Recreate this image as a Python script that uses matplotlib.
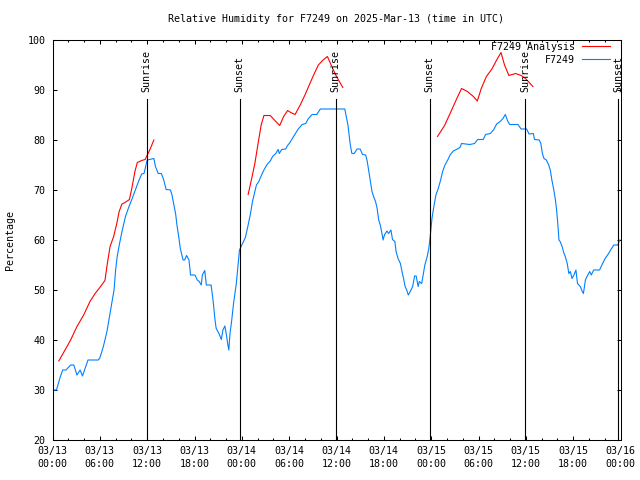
#!/usr/bin/env python3
"""Relative humidity for station F7249, observed vs analysis, with sunrise/sunset marks."""

import matplotlib

matplotlib.use("Agg")
import matplotlib.pyplot as plt
import matplotlib.transforms as mtransforms

# hours since 2025-03-13 00:00 UTC
obs_hours = [
    0.0, 0.5, 1.0, 1.3, 1.7, 2.3, 2.7, 3.1, 3.5, 3.8, 4.5, 5.0, 5.8, 6.0, 6.45,
    6.9, 7.3, 7.8, 8.0, 8.2, 8.5, 8.85, 9.25, 9.7, 10.1, 10.5, 10.9, 11.3, 11.6,
    12.0, 12.85, 13.05, 13.4, 13.8, 14.1, 14.4, 14.95, 15.15, 15.35, 15.6, 15.8,
    16.0, 16.2, 16.45, 16.55, 16.75, 17.0, 17.3, 17.5, 18.05, 18.35, 18.6, 18.85,
    19.0, 19.3, 19.5, 20.1, 20.35, 20.6, 20.75, 21.1, 21.4, 21.6, 21.85, 22.05,
    22.2, 22.35, 22.5, 22.7, 22.95, 23.3, 23.5, 23.7, 24.0, 24.45, 24.8, 25.1,
    25.35, 25.65, 25.85, 26.15, 26.5, 26.8, 27.2, 27.6, 27.9, 28.3, 28.6, 28.75,
    29.05, 29.55, 29.8, 30.1, 30.4, 30.8, 31.15, 31.65, 32.1, 32.4, 32.9, 33.5,
    33.95, 37.05, 37.2, 37.45, 37.6, 37.75, 37.95, 38.25, 38.6, 39.0, 39.3, 39.7,
    39.9, 40.1, 40.3, 40.5, 40.7, 40.95, 41.15, 41.35, 41.55, 41.8, 41.9, 42.1,
    42.4, 42.6, 42.9, 43.1, 43.4, 43.55, 43.8, 44.1, 44.3, 44.5, 44.7, 44.9,
    45.1, 45.35, 45.65, 45.9, 46.1, 46.35, 46.5, 46.8, 46.95, 47.2, 47.5, 47.7,
    47.9, 48.1, 48.3, 48.6, 48.9, 49.2, 49.45, 49.75, 50.1, 50.4, 50.8, 51.2,
    51.65, 51.85, 52.9, 53.5, 53.9, 54.6, 54.9, 55.5, 55.9, 56.3, 56.75, 57.1,
    57.4, 57.7, 57.95, 59.0, 59.4, 60.1, 60.4, 60.95, 61.1, 61.7, 61.9, 62.1,
    62.3, 62.6, 62.9, 63.1, 63.3, 63.55, 63.75, 63.9, 64.05, 64.2, 64.35, 64.6,
    64.8, 65.0, 65.25, 65.45, 65.65, 65.85, 66.1, 66.35, 66.55, 66.9, 67.15,
    67.3, 67.55, 67.85, 68.1, 68.3, 68.6, 69.35, 69.7, 70.05, 70.45, 70.75,
    71.15, 71.65, 71.9,
]
obs_rh = [
    30, 30, 32.7, 34, 34, 35, 35, 33, 34, 32.8, 36, 36, 36, 36.4, 38.7,
    41.7, 45.4, 50, 54, 56.7, 59.3, 62, 64.7, 66.7, 68.3, 70, 71.7, 73.2, 73.3,
    76, 76.3, 74.7, 73.3, 73.3, 72, 70.1, 70, 69, 67.3, 65.3, 62.7,
    60.7, 58.3, 56.7, 56, 56, 56.9, 56, 53, 53, 52, 51.7, 51,
    53, 53.9, 51, 51, 48, 44, 42.3, 41.3, 40.1, 42, 42.8, 41,
    39.3, 38, 41.3, 43.7, 47.3, 51.3, 54.7, 58, 59, 60.5, 63, 65.3,
    67.7, 69.7, 71, 71.7, 73, 74, 75.1, 75.8, 76.7, 77.3, 78.1, 77.3,
    78.1, 78.2, 78.9, 79.5, 80.3, 81.3, 82.2, 83.1, 83.3, 84.2, 85.1, 85.1,
    86.2, 86.2, 85, 83, 81, 79, 77.3, 77.3, 78.2, 78.2, 77.1, 77,
    75.7, 73.7, 71.7, 69.7, 68.7, 67.7, 66.3, 64, 63, 61, 60, 61.1,
    61.8, 61.3, 62, 60.1, 59.7, 57.7, 56.3, 55.3, 53.7, 52.3, 50.7, 50,
    49, 49.7, 50.7, 52.8, 52.8, 50.7, 51.7, 51.3, 52.7, 55, 56.7, 58.3,
    61, 64.3, 66.3, 69, 70.3, 72, 73.7, 75, 76, 77, 77.8, 78.1,
    78.5, 79.3, 79.1, 79.3, 80.1, 80.1, 81.1, 81.3, 82, 83.2, 83.7, 84.3,
    85.1, 83.8, 83.1, 83.1, 82.2, 82.2, 81.2, 81.3, 80.1, 80, 79.3, 77.3,
    76.3, 76, 75, 74, 72, 70, 68, 66, 63.3, 60, 59.7, 58.7,
    57.5, 56.7, 55.3, 53.3, 53.7, 52.3, 53, 54, 51.3, 50.7, 49.7,
    49.3, 52, 53, 53.7, 53, 54, 54, 55.2, 56.3, 57.2, 58,
    59, 59, 60,
]

# analysis runs, one segment per day
ana1_hours = [0.8, 2.3, 3.1, 3.95, 4.75, 5.4, 6.0, 6.65, 6.95, 7.3, 7.75, 8.15,
              8.45, 8.8, 9.2, 9.75, 10.05, 10.45, 10.75, 11.3, 11.75, 12.35, 12.85]
ana1_rh = [35.8, 40, 42.7, 45, 47.7, 49.3, 50.5, 51.9, 55.3, 58.7, 60.7, 63.3,
           65.7, 67.2, 67.5, 68.1, 70.3, 73.7, 75.5, 75.9, 76.1, 78.1, 80]
ana2_hours = [24.8, 25.25, 25.65, 26.1, 26.45, 26.8, 27.6, 28.25, 28.8, 29.3, 29.8,
              30.2, 30.75, 31.4, 32.0, 32.55, 33.1, 33.7, 34.3, 34.85, 35.4, 36.0, 36.8]
ana2_rh = [69.1, 72.3, 75.3, 79.7, 83, 84.9, 84.9, 83.8, 82.9, 84.7, 85.9,
           85.5, 85.1, 87, 89, 91, 93, 95, 96, 96.7, 94.7, 92.7, 90.5]
ana3_hours = [48.8, 49.7, 50.6, 51.25, 51.85, 52.6, 53.35, 53.85, 54.35, 55.0,
              55.7, 56.3, 56.85, 57.3, 57.85, 58.7, 59.4, 59.95, 60.9]
ana3_rh = [80.7, 82.9, 86, 88.3, 90.3, 89.7, 88.7, 87.8, 90.3, 92.7,
           94.2, 96, 97.5, 95, 92.9, 93.3, 92.9, 92.3, 90.7]

sun_hours = [11.95, 23.75, 35.9, 47.8, 59.95, 71.7]
sun_labels = ["Sunrise", "Sunset", "Sunrise", "Sunset", "Sunrise", "Sunset"]

tick_hours = list(range(0, 73, 6))
tick_labels = [
    "03/13\n00:00", "03/13\n06:00", "03/13\n12:00", "03/13\n18:00",
    "03/14\n00:00", "03/14\n06:00", "03/14\n12:00", "03/14\n18:00",
    "03/15\n00:00", "03/15\n06:00", "03/15\n12:00", "03/15\n18:00",
    "03/16\n00:00",
]

FONT = 7.2
RED = "#ff0000"
BLUE = "#0080ff"

plt.rcParams.update({
    "font.family": ["DejaVu Sans Mono"],
    "font.size": FONT,
    "axes.linewidth": 0.75,
})

fig = plt.figure(figsize=(6.4, 4.8), dpi=100)
ax = fig.add_axes([52.5 / 640, 40 / 480, 568 / 640, 400 / 480])

ax.plot(ana1_hours, ana1_rh, color=RED, lw=0.8, label="F7249 Analysis")
ax.plot(ana2_hours, ana2_rh, color=RED, lw=0.8)
ax.plot(ana3_hours, ana3_rh, color=RED, lw=0.8)
ax.plot(obs_hours, obs_rh, color=BLUE, lw=0.8, label="F7249")

blend = mtransforms.blended_transform_factory(ax.transData, ax.transAxes)
for hour, label in zip(sun_hours, sun_labels):
    ax.plot([hour, hour], [0, 0.853], color="black", lw=0.8, transform=blend)
    ax.text(hour, 0.87, label, rotation=90, ha="center", va="bottom",
            fontsize=FONT, transform=blend)

ax.set_xlim(0, 72)
ax.set_ylim(20, 100)
ax.set_xticks(tick_hours)
ax.set_xticklabels(tick_labels, linespacing=1.3)
ax.set_xticks(range(0, 73, 2), minor=True)
ax.set_yticks(range(20, 101, 10))
ax.tick_params(which="both", direction="in", top=True, right=True, width=0.75)
ax.tick_params(which="major", length=3.0)
ax.tick_params(which="minor", length=1.5)
ax.tick_params(axis="x", which="major", pad=4.5)
ax.tick_params(axis="y", pad=5)

ax.legend(loc="upper right", bbox_to_anchor=(0.9815, 0.995), frameon=False,
          markerfirst=False, handlelength=2.8, handletextpad=0.7,
          borderaxespad=0, borderpad=0, labelspacing=0.3, fontsize=FONT)

# gnuplot centres the title over the plot area, not the whole canvas
ax.text(0.5, 1 + 21 / 400, "Relative Humidity for F7249 on 2025-Mar-13 (time in UTC)",
        ha="center", va="center", fontsize=FONT, transform=ax.transAxes)
fig.text(10 / 640, 240 / 480, "Percentage", rotation=90, ha="center", va="center",
         fontsize=FONT)

fig.savefig("out.png", dpi=100, facecolor="white")
